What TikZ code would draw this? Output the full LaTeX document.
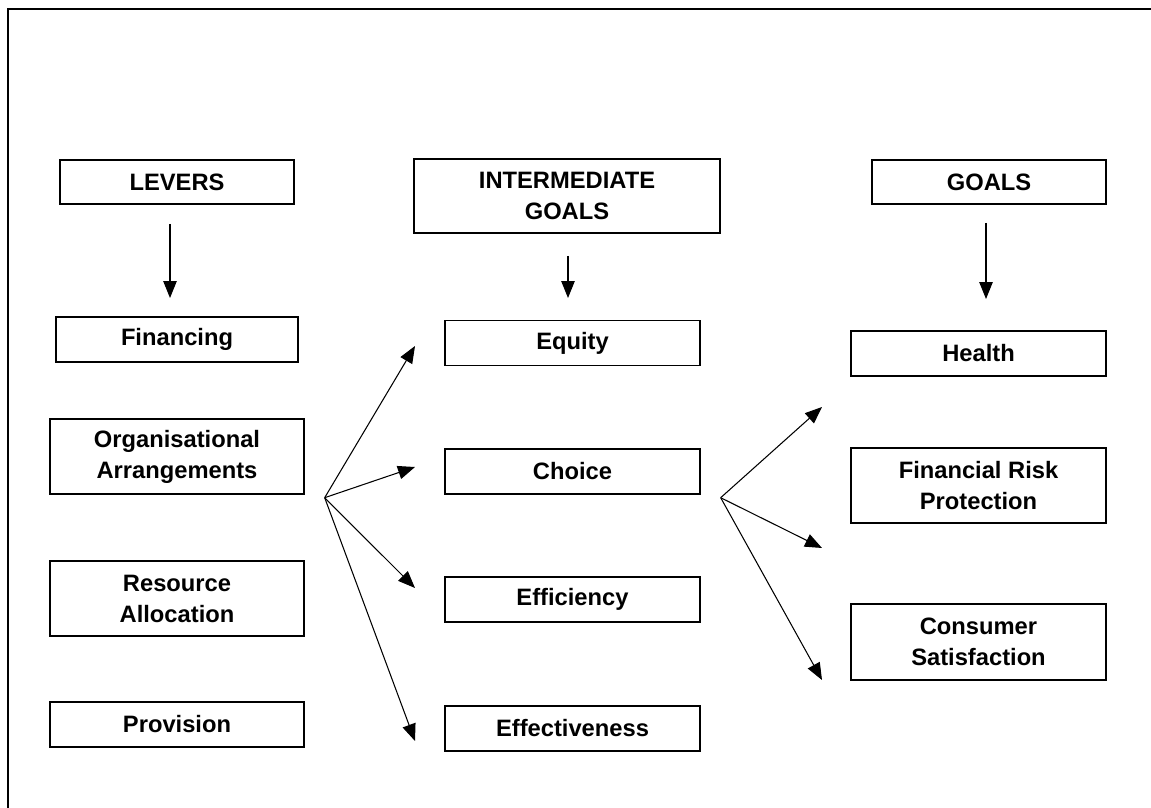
\documentclass[tikz,border=0pt]{standalone}
\usepackage{fontspec}
\setmainfont{Liberation Sans}
\usetikzlibrary{arrows.meta,calc}

\tikzset{
	box/.style={draw, line width=0.8pt, inner sep=0pt, align=center,
		font=\bfseries\fontsize{13.5}{17.6}\selectfont},
	single/.style={box, minimum height=0.9cm},
	double/.style={box, minimum height=1.5cm},
	link/.style={line width=0.6pt, -{Triangle[length=0.34cm,width=0.27cm]}}
}

\begin{document}
\begin{tikzpicture}[x=0.02cm,y=-0.02cm]
		\useasboundingbox (0,0) rectangle (1151,807);
		\draw[line width=0.7pt] (8,9) rectangle (1170,830);
		%
		\node[single, minimum width=4.68cm, minimum height=0.88cm] (levers) at (177,182) {LEVERS};
		\node[box, minimum width=6.12cm, minimum height=1.48cm] (inter) at (567,196) {INTERMEDIATE\\GOALS};
		\node[single, minimum width=4.68cm, minimum height=0.88cm] (goals) at (989,182) {GOALS};
		%
		\node[single, minimum width=4.84cm] (financing) at (177,339.5) {Financing};
		\node[double, minimum width=5.08cm] (orgarr) at (177,456.5) {Organisational\\Arrangements};
		\node[double, minimum width=5.08cm] (resalloc) at (177,598.5) {Resource\\Allocation};
		\node[single, minimum width=5.08cm] (provision) at (177,724.5) {Provision};
		%
		\node[single, minimum width=5.1cm] (equity) at (572.5,343) {Equity};
		\node[single, minimum width=5.1cm] (choice) at (572.5,471.5) {Choice};
		\node[single, minimum width=5.1cm] (efficiency) at (572.5,599.5) {Efficiency};
		\node[single, minimum width=5.1cm] (effect) at (572.5,728.5) {Effectiveness};
		%
		\node[single, minimum width=5.1cm] (health) at (978.5,353.5) {Health};
		\node[double, minimum width=5.1cm] (finrisk) at (978.5,485.5) {Financial Risk\\Protection};
		\node[double, minimum width=5.1cm, minimum height=1.52cm] (consumer) at (978.5,642) {Consumer\\Satisfaction};
		%
		\coordinate (l1) at (170,224);
		\coordinate (l2) at (170,298);
		\coordinate (i1) at (568,256);
		\coordinate (i2) at (568,298);
		\coordinate (g1) at (986,223);
		\coordinate (g2) at (986,299);
		\draw[link] (l1) -- (l2);
		\draw[link] (i1) -- (i2);
		\draw[link] (g1) -- (g2);
		%
		\coordinate (fanA) at ($(orgarr.south east)+(20,3)$);
		\coordinate (fanB) at ($(choice.south east)+(20,3)$);
		\foreach \ty [count=\n] in {346,467,588,741}
			\coordinate (a\n) at (415,\ty);
		\foreach \ty [count=\n] in {407,548,680}
			\coordinate (b\n) at (822,\ty);
		\foreach \n in {1,...,4}
			\draw[link] (fanA) -- (a\n);
		\foreach \n in {1,...,3}
			\draw[link] (fanB) -- (b\n);
\end{tikzpicture}
\end{document}
